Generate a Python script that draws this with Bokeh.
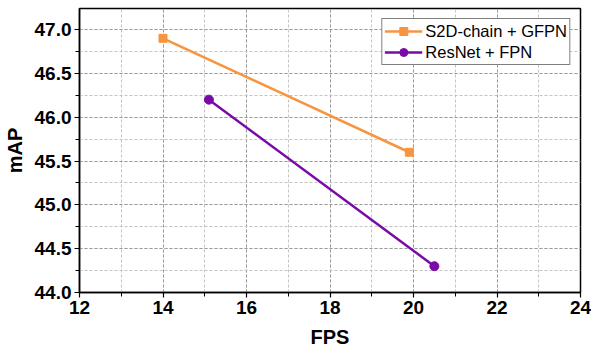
from bokeh.plotting import figure
from bokeh.models import Range1d, SingleIntervalTicker, Legend, LegendItem, NumeralTickFormatter
from bokeh.embed import file_html
from bokeh.resources import INLINE

# data
s2d_fps = [14.0, 19.9]
s2d_map = [46.9, 45.6]
res_fps = [15.1, 20.5]
res_map = [46.2, 44.3]
series_names = ["S2D-chain + GFPN", "ResNet + FPN"]

ORANGE = "#F7953F"
PURPLE = "#7A0AA6"
FONT = "Liberation Sans"

p = figure(width=591, height=350, output_backend="svg", toolbar_location=None,
           x_range=Range1d(12, 24), y_range=Range1d(44, 47.24),
           min_border_left=78, min_border_right=11, min_border_top=8, min_border_bottom=58)

p.outline_line_color = "black"
p.outline_line_width = 1.5
p.outline_line_alpha = 1

xt = SingleIntervalTicker(interval=2, num_minor_ticks=2)
yt = SingleIntervalTicker(interval=0.5, num_minor_ticks=2)
p.xaxis.ticker = xt
p.yaxis.ticker = yt
p.yaxis.formatter = NumeralTickFormatter(format="0.0")

p.xgrid.ticker = xt
p.ygrid.ticker = yt
for grid in (p.xgrid, p.ygrid):
    grid.grid_line_color = "#9a9a9a"
    grid.grid_line_dash = "3 2"
    grid.grid_line_width = 1
    grid.minor_grid_line_color = "#c4c4c4"
    grid.minor_grid_line_dash = "3 2"
    grid.minor_grid_line_width = 1

for ax in (p.xaxis[0], p.yaxis[0]):
    ax.axis_line_color = "black"
    ax.axis_line_width = 1.5
    ax.major_tick_line_color = "black"
    ax.major_tick_line_width = 1.2
    ax.minor_tick_line_color = "black"
    ax.minor_tick_line_width = 1.0
    ax.major_tick_in = 0
    ax.major_tick_out = 5
    ax.minor_tick_in = 0
    ax.minor_tick_out = 4
    ax.major_label_text_font = FONT
    ax.major_label_text_font_style = "bold"
    ax.major_label_text_font_size = "19px"
    ax.major_label_text_color = "black"
    ax.axis_label_text_font = FONT
    ax.axis_label_text_font_style = "bold"
    ax.axis_label_text_font_size = "20px"
    ax.axis_label_text_color = "black"

p.xaxis.axis_label = "FPS"
p.yaxis.axis_label = "mAP"
p.xaxis.major_label_standoff = 3
p.yaxis.major_label_standoff = 3
p.xaxis.axis_label_standoff = 9
p.yaxis.axis_label_standoff = 6

r1 = p.line(s2d_fps, s2d_map, line_color=ORANGE, line_width=2.5)
m1 = p.scatter(s2d_fps, s2d_map, marker="square", size=8, fill_color=ORANGE, line_color=ORANGE)
r2 = p.line(res_fps, res_map, line_color=PURPLE, line_width=2.5)
m2 = p.scatter(res_fps, res_map, marker="circle", size=9, fill_color=PURPLE, line_color=PURPLE)

legend = Legend(items=[LegendItem(label=series_names[0], renderers=[r1, m1]),
                       LegendItem(label=series_names[1], renderers=[r2, m2])],
                location="top_right")
legend.border_line_color = "black"
legend.border_line_width = 1
legend.background_fill_alpha = 1
legend.label_text_font = FONT
legend.label_text_font_size = "16.5px"
legend.label_text_color = "black"
legend.glyph_width = 38
legend.glyph_height = 20
legend.label_height = 20
legend.label_standoff = 3
legend.padding = 2
legend.spacing = 1
legend.margin = 10
legend.label_text_line_height = 1.0
p.add_layout(legend)

open("out.html", "w").write(file_html(p, INLINE))
